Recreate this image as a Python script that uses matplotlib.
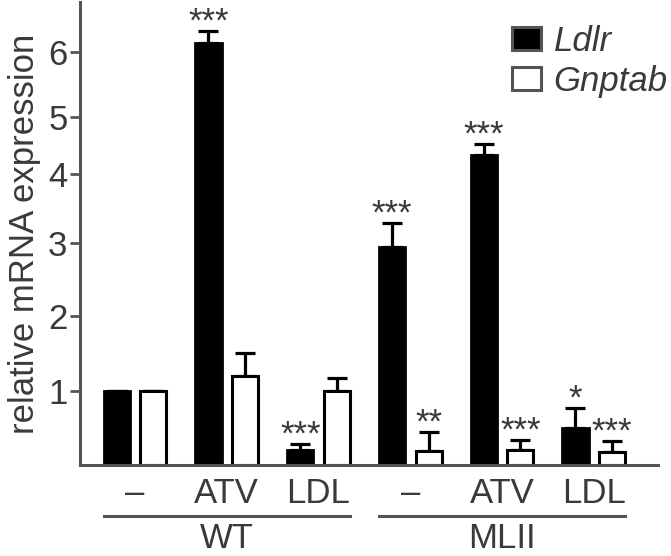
import numpy as np
import matplotlib
matplotlib.use("Agg")
import matplotlib.pyplot as plt
from matplotlib.patches import Patch

plt.rcParams["font.family"] = ["Liberation Sans", "DejaVu Sans"]

# data
GROUPS = ["WT", "MLII"]
TREATMENTS = ["–", "ATV", "LDL", "–", "ATV", "LDL"]
LDLR = [1.0, 6.14, 0.20, 2.95, 4.33, 0.50]
LDLR_ERR = [0.0, 0.18, 0.08, 0.34, 0.20, 0.27]
GNPTAB = [1.0, 1.20, 1.0, 0.19, 0.20, 0.18]
GNPTAB_ERR = [0.0, 0.31, 0.17, 0.26, 0.14, 0.14]
LDLR_STARS = ["", "***", "***", "***", "***", "*"]
GNPTAB_STARS = ["", "", "", "**", "***", "***"]
YTICKS = [1, 2, 3, 4, 5, 6]

# the original y axis is not evenly spaced; calibrate it from the tick marks
AXIS_V = np.array([0, 1, 2, 3, 4, 5, 6], dtype=float)
AXIS_P = np.array([0, 74, 149, 222, 291, 348, 413], dtype=float)
SLOPE_HI = 65.0


def _fwd(v):
    v = np.asarray(v, dtype=float)
    out = np.interp(v, AXIS_V, AXIS_P)
    out = np.where(v > AXIS_V[-1], AXIS_P[-1] + (v - AXIS_V[-1]) * SLOPE_HI, out)
    out = np.where(v < 0, v * AXIS_P[1], out)
    return out


def _inv(p):
    p = np.asarray(p, dtype=float)
    out = np.interp(p, AXIS_P, AXIS_V)
    out = np.where(p > AXIS_P[-1], AXIS_V[-1] + (p - AXIS_P[-1]) / SLOPE_HI, out)
    out = np.where(p < 0, p / AXIS_P[1], out)
    return out


TXT = "#3a3a3a"
LINE = "#555555"
FS = 25

fig = plt.figure(figsize=(6.71, 5.56), dpi=100)
ax = fig.add_axes([80 / 671, 1 - 465 / 556, 578 / 671, 463 / 556])
ax.set_yscale("function", functions=(_fwd, _inv))

x = np.arange(len(TREATMENTS))
off = 0.2
w = 0.285

ax.errorbar(x - off, LDLR, yerr=[np.zeros(len(x)), LDLR_ERR], fmt="none",
            ecolor="black", elinewidth=2.3, capsize=7.5, capthick=2.3, zorder=1)
ax.errorbar(x + off, GNPTAB, yerr=[np.zeros(len(x)), GNPTAB_ERR], fmt="none",
            ecolor="black", elinewidth=2.3, capsize=7.5, capthick=2.3, zorder=1)
ax.bar(x - off, LDLR, width=w, color="black", edgecolor="black", linewidth=2, zorder=2)
ax.bar(x + off, GNPTAB, width=w, color="white", edgecolor="black", linewidth=2.2, zorder=2)

for xs, vals, errs, stars in [(x - off, LDLR, LDLR_ERR, LDLR_STARS),
                              (x + off, GNPTAB, GNPTAB_ERR, GNPTAB_STARS)]:
    for xi, v, e, s in zip(xs, vals, errs, stars):
        if s:
            ax.annotate(s, xy=(xi, v + e), xytext=(0, -0.5), textcoords="offset points",
                        ha="center", va="baseline", fontsize=FS, color=TXT)

ax.set_xlim(-0.6, 5.7)
ax.set_ylim(0, 6.77)
ax.set_yticks(YTICKS)
ax.set_yticklabels([str(t) for t in YTICKS])
ax.minorticks_off()
ax.set_xticks([])

for side in ["top", "right"]:
    ax.spines[side].set_visible(False)
for side in ["left", "bottom"]:
    ax.spines[side].set_color(LINE)
    ax.spines[side].set_linewidth(2.2)
ax.tick_params(axis="y", length=7, width=2, color=LINE, labelsize=FS,
               labelcolor=TXT, pad=2)
ax.set_ylabel("relative mRNA expression", fontsize=FS, color=TXT, labelpad=5)

# treatment labels and group brackets under the axis
xt = ax.get_xaxis_transform()
for xi, t in zip(x, TREATMENTS):
    ax.text(xi, -0.082, t, transform=xt, ha="center", va="baseline",
            fontsize=FS, color=TXT)
for gi, g in enumerate(GROUPS):
    x0 = x[gi * 3] - off - w / 2
    x1 = x[gi * 3 + 2] + off + w / 2
    ax.plot([x0, x1], [-0.110, -0.110], transform=xt, color=LINE,
            linewidth=2.2, clip_on=False)
    ax.text((x0 + x1) / 2, -0.179, g, transform=xt, ha="center", va="baseline",
            fontsize=FS, color=TXT)

handles = [Patch(facecolor="black", edgecolor=LINE, linewidth=2.2),
           Patch(facecolor="white", edgecolor=LINE, linewidth=2.2)]
ax.legend(handles, ["Ldlr", "Gnptab"], loc="upper left",
          bbox_to_anchor=(512 / 671, 1 - 25 / 556), bbox_transform=fig.transFigure,
          frameon=False, borderpad=0, borderaxespad=0, handlelength=0.84,
          handleheight=0.64, handletextpad=0.36, labelspacing=0.2,
          prop=dict(family="Liberation Sans", style="italic", size=FS),
          labelcolor=TXT)

fig.savefig("out.png", dpi=100)
